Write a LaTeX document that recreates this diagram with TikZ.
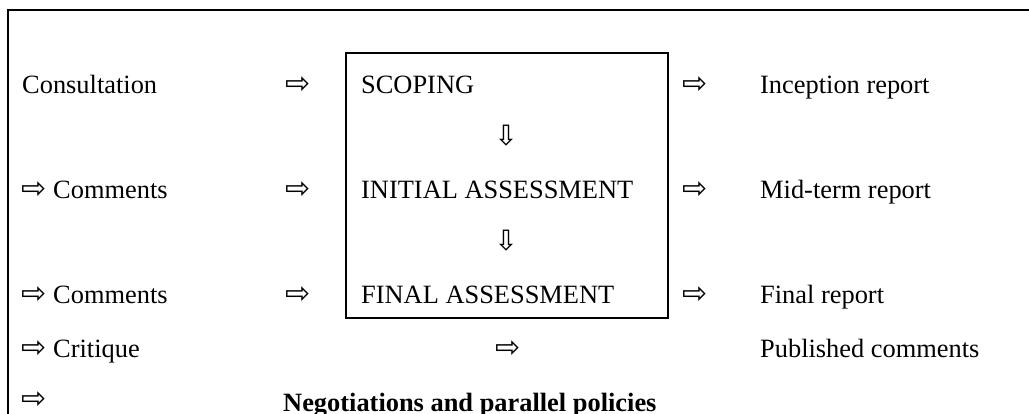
\documentclass[tikz,border=0pt]{standalone}
\usepackage{fontspec}
\setmainfont{Liberation Serif}
\newfontfamily\arrowfont{DejaVu Sans}
\begin{document}
\begin{tikzpicture}[x=1pt,y=-1pt,
  txt/.style={anchor=base west,inner sep=0pt,font=\fontsize{26.4}{30}\selectfont},
  btxt/.style={txt,font=\fontsize{26.4}{30}\selectfont\bfseries},
  arr/.style={anchor=base west,inner sep=0pt,font=\arrowfont\fontsize{30}{34}\selectfont},
  darr/.style={anchor=base,inner sep=0pt,font=\arrowfont\fontsize{28}{32}\selectfont},
  frame/.style={line width=2.6pt},
  stagebox/.style={draw,line width=2pt}]
\useasboundingbox (0,0) rectangle (1029,413);
% outer frame (top and left edges visible)
\coordinate (ftl) at (8,10);
\coordinate (ftr) at (1030,10);
\coordinate (fbl) at (8,414);
\draw[frame] (fbl) -- (ftl) -- (ftr);
% central box
\node[stagebox,minimum width=322pt,minimum height=265pt,inner sep=0pt,anchor=north west] (box) at (345,52) {};
% row 1
\node[txt] (consult) at (22,93) {Consultation};
\node[arr] (a1) at (285,93) {⇨};
\node[txt] (scoping) at (361,93) {SCOPING};
\node[arr] (r1) at (682,93) {⇨};
\node[txt] (incep) at (760,93) {Inception report};
\node[darr] (d1) at (506,145) {⇩};
% row 2
\node[arr] (l2) at (21,198) {⇨};
\node[txt] (comm1) at (53,198) {Comments};
\node[arr] (a2) at (285,198) {⇨};
\node[txt] (initial) at (361,198) {INITIAL ASSESSMENT};
\node[arr] (r2) at (682,198) {⇨};
\node[txt] (mid) at (760,198) {Mid-term report};
\node[darr] (d2) at (506,250) {⇩};
% row 3
\node[arr] (l3) at (21,303) {⇨};
\node[txt] (comm2) at (53,303) {Comments};
\node[arr] (a3) at (285,303) {⇨};
\node[txt] (final) at (361,303) {FINAL ASSESSMENT};
\node[arr] (r3) at (682,303) {⇨};
\node[txt] (freport) at (760,303) {Final report};
% row 4
\node[arr] (l4) at (21,357) {⇨};
\node[txt] (crit) at (53,357) {Critique};
\node[arr] (c4) at (495,357) {⇨};
\node[txt] (pub) at (760,357) {Published comments};
% row 5
\node[arr] (l5) at (21,408) {⇨};
\node[btxt] (nego) at (283,411) {Negotiations and parallel policies};
\end{tikzpicture}
\end{document}
